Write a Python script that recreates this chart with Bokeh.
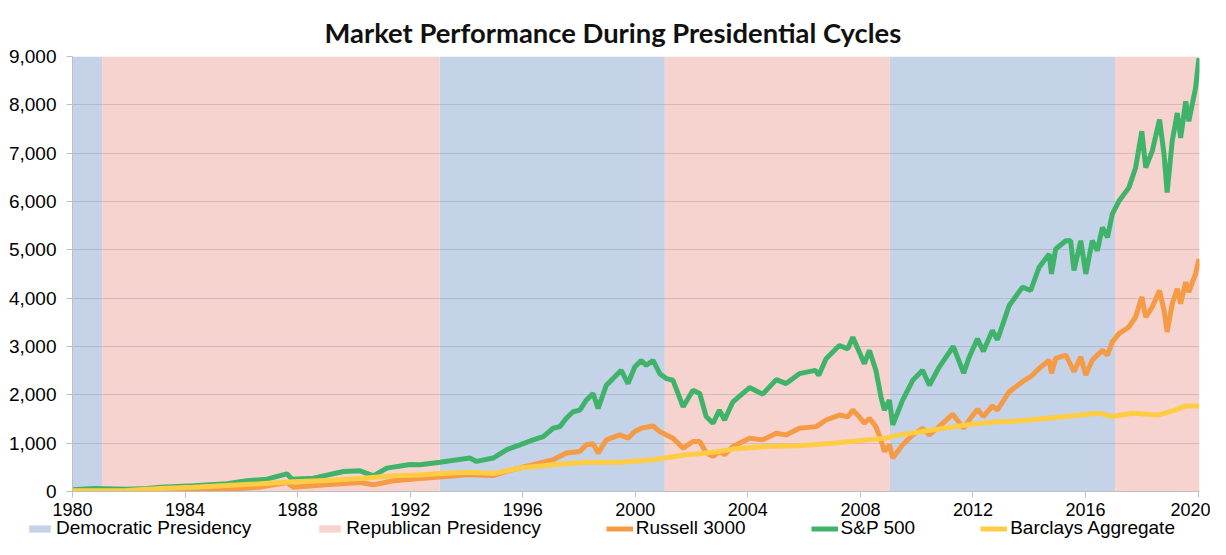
from bokeh.plotting import figure
from bokeh.layouts import column
from bokeh.models import ColumnDataSource, Legend, LegendItem, FixedTicker, NumeralTickFormatter, Title
from bokeh.embed import file_html
from bokeh.resources import INLINE

# ---------------- data ----------------
term_starts = [1980.0, 1981.05, 1993.05, 2001.05, 2009.05, 2017.05]
term_ends = [1981.05, 1993.05, 2001.05, 2009.05, 2017.05, 2020.05]
term_party = ["Democratic", "Republican", "Democratic", "Republican", "Democratic", "Republican"]

sp_years = [1980.0, 1980.76, 1981.94, 1982.65, 1983.12, 1984.31, 1985.49, 1986.20, 1986.91, 1987.62,
            1987.80, 1988.56, 1989.63, 1990.22, 1990.69, 1991.17, 1992.0, 1992.35, 1993.06, 1994.12,
            1994.36, 1994.95, 1995.42, 1995.90, 1996.37, 1996.73, 1997.08, 1997.32, 1997.55, 1997.79,
            1998.03, 1998.26, 1998.50, 1998.68, 1998.97, 1999.21, 1999.50, 1999.74, 1999.98, 2000.21,
            2000.39, 2000.63, 2000.87, 2001.10, 2001.34, 2001.70, 2002.05, 2002.29, 2002.52, 2002.76,
            2002.99, 2003.17, 2003.47, 2004.06, 2004.53, 2005.01, 2005.36, 2005.83, 2006.40, 2006.52,
            2006.78, 2007.25, 2007.55, 2007.73, 2007.96, 2008.14, 2008.32, 2008.55, 2008.73, 2008.85,
            2009.03, 2009.15, 2009.50, 2009.86, 2010.21, 2010.45, 2010.80, 2011.30, 2011.67, 2011.87,
            2012.16, 2012.37, 2012.69, 2012.87, 2013.29, 2013.76, 2014.05, 2014.35, 2014.71, 2014.79,
            2014.94, 2015.30, 2015.47, 2015.59, 2015.83, 2016.01, 2016.24, 2016.42, 2016.60, 2016.78,
            2016.95, 2017.19, 2017.54, 2017.78, 2018.00, 2018.14, 2018.37, 2018.63, 2018.79, 2018.90,
            2019.08, 2019.26, 2019.38, 2019.56, 2019.67, 2019.91, 2020.03]
sp_values = [34, 62, 48, 62, 90, 117, 159, 221, 255, 366,
             255, 276, 414, 428, 324, 483, 560, 555, 605, 692,
             623, 692, 863, 966, 1068, 1137, 1308, 1342, 1514, 1651,
             1685, 1890, 2027, 1719, 2199, 2336, 2507, 2233, 2575, 2712,
             2610, 2712, 2438, 2336, 2301, 1753, 2096, 2027, 1550, 1411,
             1685, 1479, 1856, 2151, 2014, 2315, 2233, 2438, 2507, 2404,
             2747, 3021, 2952, 3192, 2884, 2644, 2918, 2507, 1959, 1685,
             1890, 1377, 1890, 2301, 2507, 2199, 2575, 3000, 2450, 2787,
             3160, 2900, 3330, 3140, 3850, 4228, 4159, 4640, 4914, 4502,
             5017, 5189, 5189, 4571, 5189, 4502, 5189, 4983, 5463, 5257,
             5738, 6012, 6287, 6699, 7454, 6699, 7042, 7694, 6973, 6184,
             7248, 7831, 7316, 8071, 7660, 8346, 8964]

rus_years = [1980.0, 1981.94, 1983.12, 1984.31, 1985.49, 1986.67, 1987.62, 1987.85, 1989.0, 1990.22,
             1990.69, 1991.40, 1992.35, 1993.06, 1994.12, 1994.95, 1995.42, 1995.90, 1996.37, 1997.08,
             1997.55, 1998.03, 1998.26, 1998.50, 1998.68, 1998.97, 1999.45, 1999.74, 1999.98, 2000.21,
             2000.63, 2000.87, 2001.10, 2001.34, 2001.70, 2002.05, 2002.29, 2002.52, 2002.76, 2002.99,
             2003.17, 2003.47, 2004.06, 2004.53, 2005.01, 2005.36, 2005.83, 2006.43, 2006.78, 2007.25,
             2007.55, 2007.73, 2007.96, 2008.14, 2008.32, 2008.55, 2008.73, 2008.85, 2009.03, 2009.15,
             2009.50, 2009.86, 2010.21, 2010.45, 2010.80, 2011.28, 2011.67, 2011.87, 2012.16, 2012.37,
             2012.69, 2012.87, 2013.29, 2013.76, 2014.05, 2014.35, 2014.71, 2014.79, 2014.94, 2015.30,
             2015.59, 2015.83, 2016.01, 2016.24, 2016.60, 2016.78, 2016.95, 2017.19, 2017.54, 2017.78,
             2018.00, 2018.14, 2018.37, 2018.63, 2018.79, 2018.90, 2019.08, 2019.26, 2019.38, 2019.56,
             2019.67, 2019.91, 2020.03]
rus_values = [21, 21, 34, 34, 48, 90, 186, 90, 138, 186,
              138, 221, 270, 300, 349, 329, 418, 486, 555, 658,
              795, 829, 966, 986, 795, 1068, 1171, 1103, 1240, 1308,
              1356, 1240, 1171, 1103, 897, 1034, 1034, 800, 726, 829,
              760, 932, 1103, 1068, 1205, 1171, 1308, 1342, 1479, 1582,
              1548, 1685, 1548, 1411, 1514, 1342, 1068, 829, 966, 692,
              966, 1171, 1308, 1171, 1342, 1600, 1310, 1483, 1700, 1551,
              1770, 1688, 2066, 2272, 2375, 2546, 2718, 2443, 2752, 2821,
              2478, 2787, 2409, 2718, 2924, 2821, 3095, 3267, 3404, 3610,
              4022, 3610, 3816, 4159, 3747, 3301, 3885, 4194, 3885, 4331,
              4125, 4502, 4811]

agg_years = [1980.0, 1981.94, 1983.12, 1984.31, 1985.49, 1986.67, 1987.85, 1989.04, 1990.22, 1991.40,
             1992.35, 1993.06, 1994.12, 1994.95, 1995.90, 1997.08, 1998.26, 1999.45, 2000.63, 2001.81,
             2002.29, 2002.99, 2003.47, 2004.65, 2005.83, 2007.02, 2008.20, 2008.91, 2009.38, 2010.56,
             2011.75, 2012.87, 2013.29, 2014.11, 2015.30, 2016.48, 2016.95, 2017.66, 2018.60, 2019.20,
             2019.56, 2020.03]
agg_values = [15, 21, 62, 90, 124, 159, 200, 228, 269, 324,
              340, 370, 397, 370, 486, 555, 603, 603, 658, 760,
              781, 829, 877, 932, 945, 1000, 1068, 1103, 1171, 1274,
              1377, 1445, 1448, 1483, 1551, 1620, 1551, 1620, 1585, 1688,
              1771, 1771]

x_ticks = [1980, 1984, 1988, 1992, 1996, 2000, 2004, 2008, 2012, 2016, 2020]
y_ticks = [0, 1000, 2000, 3000, 4000, 5000, 6000, 7000, 8000, 9000]

DEM_COLOR, REP_COLOR = "#C5D3E8", "#F6D3CE"
RUS_COLOR, SP_COLOR, AGG_COLOR = "#F59A45", "#40B36B", "#FFCC44"

# ---------------- main figure ----------------
Y_MAX = 9000
p = figure(width=1210, height=518, output_backend="svg", toolbar_location=None,
           x_range=(1980, 2020.05), y_range=(0, Y_MAX),
           min_border_left=72, min_border_right=11, min_border_top=56, min_border_bottom=26)
p.title = Title(text="Market Performance During Presidential Cycles", align="left", offset=252,
                vertical_align="top",
                text_font="Lato", text_font_style="bold", text_font_size="27.4px",
                text_color="#111111", standoff=12)
p.outline_line_color = None
p.background_fill_color = "white"

dem = [i for i, t in enumerate(term_party) if t == "Democratic"]
rep = [i for i, t in enumerate(term_party) if t == "Republican"]
dem_src = ColumnDataSource(dict(left=[term_starts[i] for i in dem], right=[term_ends[i] for i in dem]))
rep_src = ColumnDataSource(dict(left=[term_starts[i] for i in rep], right=[term_ends[i] for i in rep]))
p.quad(left="left", right="right", bottom=0, top=Y_MAX, source=dem_src,
       fill_color=DEM_COLOR, line_color=None, level="image")
p.quad(left="left", right="right", bottom=0, top=Y_MAX, source=rep_src,
       fill_color=REP_COLOR, line_color=None, level="image")

p.line(rus_years, rus_values, line_color=RUS_COLOR, line_width=5)
p.line(sp_years, sp_values, line_color=SP_COLOR, line_width=5)
p.line(agg_years, agg_values, line_color=AGG_COLOR, line_width=5)

p.xaxis.ticker = FixedTicker(ticks=x_ticks)
p.yaxis.ticker = FixedTicker(ticks=y_ticks)
p.yaxis.formatter = NumeralTickFormatter(format="0,0")
for ax in (p.xaxis[0], p.yaxis[0]):
    ax.axis_line_color = "#BFBFBF"
    ax.major_tick_line_color = "#BFBFBF"
    ax.major_tick_out = 6
    ax.major_tick_in = 0
    ax.minor_tick_line_color = None
    ax.major_label_text_font = "Liberation Sans"
    ax.major_label_text_color = "#000000"
p.yaxis.major_label_standoff = 10
p.yaxis.major_label_text_font_size = "19px"
p.xaxis.major_label_standoff = 5
p.xaxis.major_label_text_font_size = "18px"

p.xgrid.grid_line_color = None
p.ygrid.grid_line_color = "#8C8C8C"
p.ygrid.grid_line_alpha = 0.35

# ---------------- legend strip ----------------
lg = figure(width=1210, height=21, output_backend="svg", toolbar_location=None,
            x_axis_location=None, y_axis_location=None,
            x_range=(0, 1), y_range=(0, 1), min_border=0)
lg.grid.visible = False
lg.outline_line_color = None
for fig in (p, lg):
    try:
        fig.frame_align = False
    except Exception:
        pass
nan = float("nan")
empty = ColumnDataSource(dict(x=[nan], y=[nan], l=[nan], r=[nan], b=[nan], t=[nan]))
l_dem = lg.quad(left="l", right="r", bottom="b", top="t", source=empty, fill_color=DEM_COLOR, line_color=None)
l_rep = lg.quad(left="l", right="r", bottom="b", top="t", source=empty, fill_color=REP_COLOR, line_color=None)
l_rus = lg.line("x", "y", source=empty, line_color=RUS_COLOR, line_width=5)
l_sp = lg.line("x", "y", source=empty, line_color=SP_COLOR, line_width=5)
l_agg = lg.line("x", "y", source=empty, line_color=AGG_COLOR, line_width=5)

legend = Legend(items=[
    LegendItem(label="Democratic Presidency", renderers=[l_dem]),
    LegendItem(label="Republican Presidency", renderers=[l_rep]),
    LegendItem(label="Russell 3000", renderers=[l_rus]),
    LegendItem(label="S&P 500", renderers=[l_sp]),
    LegendItem(label="Barclays Aggregate", renderers=[l_agg]),
], orientation="horizontal", location=(26, 0), glyph_width=27, glyph_height=9,
    label_standoff=3, spacing=65, padding=0, margin=0, label_height=10,
    label_text_font="Liberation Sans", label_text_font_size="19px", label_text_color="#000000",
    border_line_color=None, background_fill_alpha=0)
lg.add_layout(legend, "center")

layout = column(p, lg, spacing=0)
open("out.html", "w").write(file_html(layout, INLINE))
